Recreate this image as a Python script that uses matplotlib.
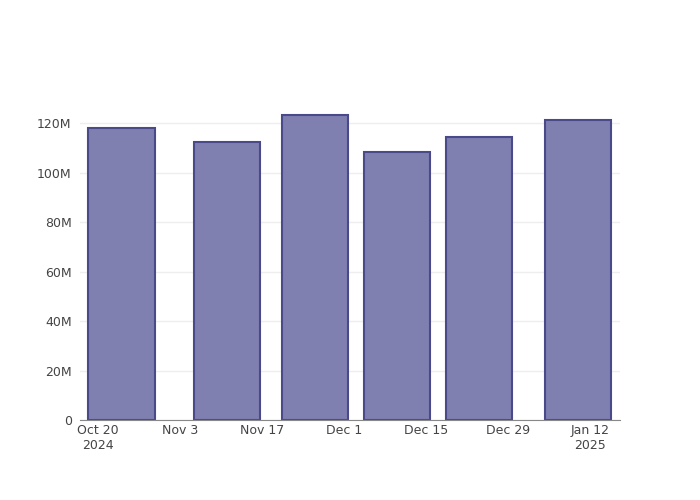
import datetime as dt

import matplotlib
matplotlib.use("Agg")
import matplotlib.dates as mdates
import matplotlib.pyplot as plt

# bar dates and values
dates = ["2024-10-24", "2024-11-11", "2024-11-26", "2024-12-10",
         "2024-12-24", "2025-01-10"]
values = [118.1e6, 112.6e6, 123.2e6, 108.5e6, 114.6e6, 121.2e6]

tick_dates = ["2024-10-20", "2024-11-03", "2024-11-17", "2024-12-01",
              "2024-12-15", "2024-12-29", "2025-01-12"]
tick_labels = ["Oct 20\n2024", "Nov 3", "Nov 17", "Dec 1", "Dec 15",
               "Dec 29", "Jan 12\n2025"]
y_ticks = [0, 20e6, 40e6, 60e6, 80e6, 100e6, 120e6]
y_labels = ["0", "20M", "40M", "60M", "80M", "100M", "120M"]


def to_num(s):
    return mdates.date2num(dt.datetime.strptime(s, "%Y-%m-%d"))


def main():
    x = [to_num(d) for d in dates]

    fig = plt.figure(figsize=(7, 5), dpi=100)
    ax = fig.add_axes([80 / 700, 80 / 500, 540 / 700, 320 / 500])

    ax.bar(x, values, width=11.3, color="#7f7fb0",
           edgecolor="#4a4a8a", linewidth=1.5, zorder=3)

    # axis ranges like plotly's autorange
    start = to_num("2024-10-20")
    ax.set_xlim(start - 3.07, start + 89.12)
    ax.set_ylim(0, 129.4e6)

    ax.set_xticks([to_num(d) for d in tick_dates])
    ax.set_xticklabels(tick_labels)
    ax.set_yticks(y_ticks)
    ax.set_yticklabels(y_labels)

    ax.grid(axis="y", color="#eeeeee", linewidth=1, zorder=0)
    for side in ["top", "right", "left"]:
        ax.spines[side].set_visible(False)
    ax.spines["bottom"].set_color("#888888")
    ax.spines["bottom"].set_zorder(4)

    ax.tick_params(axis="both", length=0, labelsize=9, colors="#444444")
    ax.tick_params(axis="x", pad=3)
    ax.tick_params(axis="y", pad=6)

    fig.savefig("out.png", dpi=100)


if __name__ == "__main__":
    main()
